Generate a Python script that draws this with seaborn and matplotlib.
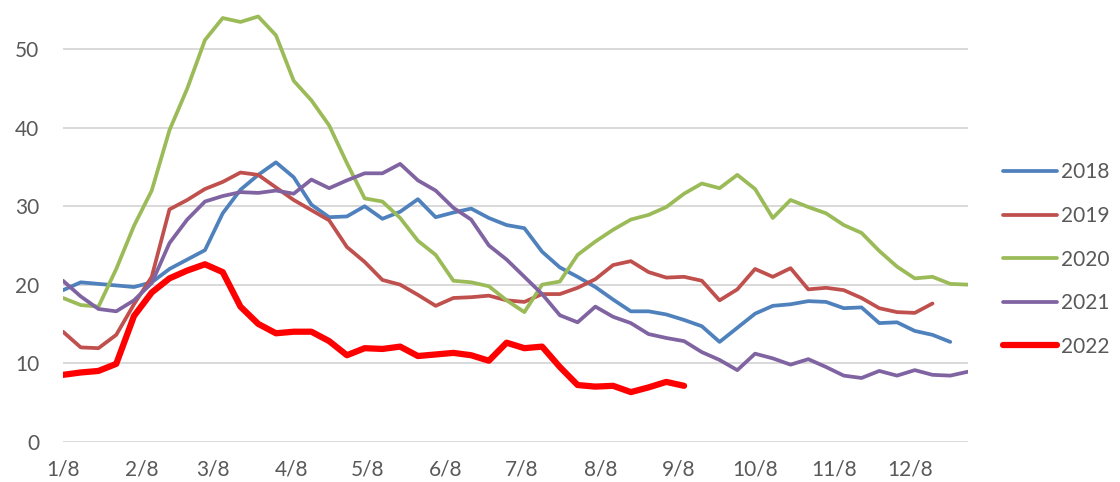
import numpy as np
import pandas as pd
import matplotlib
matplotlib.use("Agg")
import matplotlib.pyplot as plt
import matplotlib.dates as mdates
import matplotlib.ticker as mticker
import seaborn as sns

# Weekly readings, first week ending 1/8
years = ["2018", "2019", "2020", "2021", "2022"]

v2018 = [19.3, 20.3, 20.1, 19.9, 19.7, 20.3, 22.0, 23.2, 24.4, 29.1,
         32.1, 34.0, 35.6, 33.7, 30.2, 28.6, 28.7, 30.0, 28.4, 29.3,
         30.9, 28.6, 29.2, 29.7, 28.5, 27.6, 27.2, 24.2, 22.2, 21.0,
         19.7, 18.1, 16.6, 16.6, 16.2, 15.5, 14.7, 12.7, 14.5, 16.3,
         17.3, 17.5, 17.9, 17.8, 17.0, 17.1, 15.1, 15.2, 14.1, 13.6,
         12.7]

v2019 = [14.0, 12.0, 11.9, 13.6, 17.5, 21.0, 29.6, 30.8, 32.2, 33.1,
         34.3, 34.0, 32.4, 30.8, 29.5, 28.2, 24.8, 22.9, 20.6, 20.0,
         18.7, 17.3, 18.3, 18.4, 18.6, 18.0, 17.8, 18.8, 18.8, 19.6,
         20.7, 22.5, 23.0, 21.6, 20.9, 21.0, 20.5, 18.0, 19.4, 22.0,
         21.0, 22.1, 19.4, 19.6, 19.3, 18.3, 17.0, 16.5, 16.4, 17.6]

v2020 = [18.3, 17.4, 17.2, 22.0, 27.5, 32.0, 39.7, 45.0, 51.2, 54.0,
         53.5, 54.2, 51.8, 46.0, 43.5, 40.3, 35.5, 31.0, 30.6, 28.5,
         25.6, 23.8, 20.5, 20.3, 19.8, 18.0, 16.5, 20.0, 20.4, 23.8,
         25.5, 27.0, 28.3, 28.9, 29.9, 31.6, 32.9, 32.3, 34.0, 32.2,
         28.5, 30.8, 29.9, 29.1, 27.6, 26.6, 24.3, 22.3, 20.8, 21.0,
         20.1, 20.0]

v2021 = [20.5, 18.5, 16.9, 16.6, 18.0, 20.2, 25.3, 28.3, 30.6, 31.3,
         31.8, 31.7, 32.0, 31.6, 33.4, 32.3, 33.3, 34.2, 34.2, 35.4,
         33.3, 32.0, 29.8, 28.3, 25.0, 23.2, 21.0, 18.8, 16.1, 15.2,
         17.2, 15.9, 15.1, 13.7, 13.2, 12.8, 11.4, 10.4, 9.1, 11.2,
         10.6, 9.8, 10.5, 9.5, 8.4, 8.1, 9.0, 8.4, 9.1, 8.5,
         8.4, 8.9]

v2022 = [8.5, 8.8, 9.0, 9.9, 16.0, 19.0, 20.8, 21.8, 22.6, 21.6,
         17.2, 15.0, 13.8, 14.0, 14.0, 12.8, 11.0, 11.9, 11.8, 12.1,
         10.9, 11.1, 11.3, 11.0, 10.3, 12.6, 11.9, 12.1, 9.5, 7.2,
         7.0, 7.1, 6.3, 6.9, 7.6, 7.1]

series = [v2018, v2019, v2020, v2021, v2022]
colors = ["#4F81BD", "#C0504D", "#9BBB59", "#8064A2", "#FF0000"]
widths = [2.7, 2.7, 2.7, 2.7, 4.5]

y_ticks = [0, 10, 20, 30, 40, 50]

start = pd.Timestamp("2022-01-08")

sns.set_theme(style="white")
plt.rcParams["font.family"] = ["Lato", "DejaVu Sans"]

fig = plt.figure(figsize=(11.2, 4.82), dpi=100)
ax = fig.add_axes([63 / 1120, 1 - 441.5 / 482, 905 / 1120, 441.5 / 482])

for name, vals, col, lw in zip(years, series, colors, widths):
    dates = pd.date_range(start, periods=len(vals), freq="7D")
    df = pd.DataFrame({"week": dates, "value": vals})
    sns.lineplot(data=df, x="week", y="value", color=col, linewidth=lw,
                 label=name, ax=ax, solid_joinstyle="round",
                 solid_capstyle="round")

ax.set_xlim(start, start + pd.Timedelta(days=357))
ax.set_ylim(0, 56.3)
ax.set_yticks(y_ticks)
ax.xaxis.set_major_locator(mdates.MonthLocator(bymonthday=8))
ax.xaxis.set_major_formatter(
    mticker.FuncFormatter(lambda v, _: f"{mdates.num2date(v).month}/{mdates.num2date(v).day}"))

ax.set_xlabel("")
ax.set_ylabel("")
ax.yaxis.grid(True, color="#D9D9D9", linewidth=1.4)
ax.xaxis.grid(False)
ax.set_axisbelow(True)
for s in ax.spines.values():
    s.set_visible(False)

ax.tick_params(axis="y", length=0, pad=17, labelsize=15, labelcolor="#595959")
ax.tick_params(axis="x", length=0, pad=13, labelsize=15, labelcolor="#595959")

leg = ax.legend(loc="center left", bbox_to_anchor=(1003 / 1120, 0.4616),
                bbox_transform=fig.transFigure, frameon=False, fontsize=15,
                handlelength=2.6, handletextpad=0.2, labelspacing=1.13,
                borderpad=0, borderaxespad=0)
for t in leg.get_texts():
    t.set_color("#595959")

fig.savefig("out.png", dpi=100)
